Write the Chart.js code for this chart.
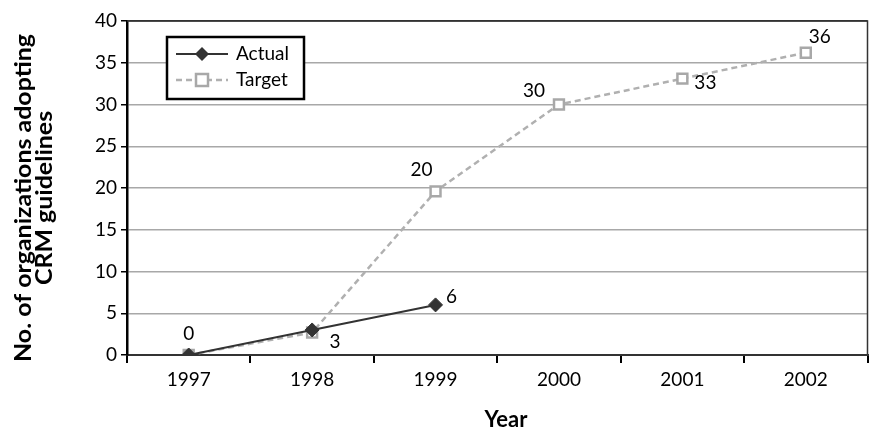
<!DOCTYPE html>
<html>
<head>
<meta charset="utf-8">
<script src="https://cdn.jsdelivr.net/npm/chart.js@4.4.1/dist/chart.umd.min.js"></script>
<style>
  html, body { margin: 0; padding: 0; background: #fff; }
  #wrap { width: 877px; height: 434px; }
</style>
</head>
<body>
<div id="wrap"><canvas id="chart" width="877" height="434"></canvas></div>
<script>
// Chart data
const years = ['1997', '1998', '1999', '2000', '2001', '2002'];
const actual = [0, 3, 6, null, null, null];
const target = [0, 2.7, 19.6, 30, 33.1, 36.2];
const actualLabels = ['0', '', '6', '', '', ''];
const targetLabels = ['', '3', '20', '30', '33', '36'];
const yTicks = [0, 5, 10, 15, 20, 25, 30, 35, 40];
const yTitle = ['No. of organizations adopting', 'CRM guidelines'];
const xTitle = 'Year';

const FONT = "Lato, 'Open Sans', sans-serif";

// label offsets (px) relative to the point, per series
const labelOffsets = {
    0: [[0, -21], null, [16, -8]],
    1: [null, [23, 9], [-14, -21], [-25, -14], [23, 4], [14, -16]]
};

// draws value labels next to the points
const pointLabels = {
    id: 'pointLabels',
    afterDatasetsDraw(chart) {
        const ctx = chart.ctx;
        ctx.save();
        ctx.font = '19px ' + FONT;
        ctx.fillStyle = '#000';
        ctx.textAlign = 'center';
        ctx.textBaseline = 'middle';
        chart.data.datasets.forEach((ds, i) => {
            const meta = chart.getDatasetMeta(i);
            ds.pointText.forEach((txt, j) => {
                if (!txt) return;
                const off = labelOffsets[i][j];
                const pt = meta.data[j];
                ctx.fillText(txt, pt.x + off[0], pt.y + off[1]);
            });
        });
        ctx.restore();
    }
};

// plot frame (top + right), axis titles and the boxed legend
const frameAndLegend = {
    id: 'frameAndLegend',
    beforeDatasetsDraw(chart) {
        const { ctx, chartArea: a } = chart;
        ctx.save();
        ctx.strokeStyle = '#333';
        ctx.lineWidth = 1.5;
        ctx.beginPath();
        ctx.moveTo(a.left, a.top);
        ctx.lineTo(a.right, a.top);
        ctx.lineTo(a.right, a.bottom);
        ctx.stroke();
        ctx.restore();
    },
    afterDraw(chart) {
        const ctx = chart.ctx;
        ctx.save();

        // axis titles (y title stretched a little to match the wide original face)
        ctx.fillStyle = '#000';
        ctx.textAlign = 'center';
        ctx.textBaseline = 'alphabetic';
        ctx.font = 'bold 22px ' + FONT;
        const stretch = 328 / ctx.measureText(yTitle[0]).width;
        ctx.save();
        ctx.translate(0, 198);
        ctx.rotate(-Math.PI / 2);
        ctx.scale(stretch, 1);
        ctx.fillText(yTitle[0], 0, 31);
        ctx.fillText(yTitle[1], 0, 52);
        ctx.restore();
        ctx.font = 'bold 22px ' + FONT;
        ctx.textBaseline = 'middle';
        ctx.fillText(xTitle, 506, 420);

        // legend
        const box = { x: 167, y: 37, w: 137, h: 62 };
        ctx.fillStyle = '#fff';
        ctx.fillRect(box.x, box.y, box.w, box.h);
        ctx.strokeStyle = '#000';
        ctx.lineWidth = 2.5;
        ctx.strokeRect(box.x, box.y, box.w, box.h);

        const rows = [54, 80];
        chart.data.datasets.forEach((ds, i) => {
            const y = rows[i];
            ctx.strokeStyle = ds.borderColor;
            ctx.lineWidth = ds.borderWidth;
            ctx.setLineDash(ds.borderDash || []);
            ctx.beginPath();
            ctx.moveTo(176, y);
            ctx.lineTo(228, y);
            ctx.stroke();
            ctx.setLineDash([]);
            const mx = 202;
            if (ds.pointStyle === 'rectRot') {
                const r = 7;
                ctx.fillStyle = ds.pointBackgroundColor;
                ctx.beginPath();
                ctx.moveTo(mx, y - r);
                ctx.lineTo(mx + r, y);
                ctx.lineTo(mx, y + r);
                ctx.lineTo(mx - r, y);
                ctx.closePath();
                ctx.fill();
            } else {
                ctx.fillStyle = ds.pointBackgroundColor;
                ctx.strokeStyle = ds.pointBorderColor;
                ctx.lineWidth = ds.pointBorderWidth;
                ctx.fillRect(mx - 6, y - 6, 12, 12);
                ctx.strokeRect(mx - 6, y - 6, 12, 12);
            }
            ctx.fillStyle = '#000';
            ctx.font = '19px ' + FONT;
            ctx.textAlign = 'left';
            ctx.textBaseline = 'middle';
            ctx.fillText(ds.label, 236, y);
        });
        ctx.restore();
    }
};

const ctx = document.getElementById('chart').getContext('2d');
new Chart(ctx, {
    type: 'line',
    data: {
        labels: years,
        datasets: [
            {
                label: 'Actual',
                data: actual,
                pointText: actualLabels,
                borderColor: '#333',
                borderWidth: 2,
                pointStyle: 'rectRot',
                pointRadius: 7,
                pointBackgroundColor: '#333',
                pointBorderColor: '#333',
                pointBorderWidth: 1,
                tension: 0,
                spanGaps: false
            },
            {
                label: 'Target',
                data: target,
                pointText: targetLabels,
                borderColor: '#b0b0b0',
                borderWidth: 2.5,
                borderDash: [6, 4],
                pointStyle: 'rect',
                pointRadius: 7,
                pointBackgroundColor: '#fff',
                pointBorderColor: '#a8a8a8',
                pointBorderWidth: 2.5,
                tension: 0
            }
        ]
    },
    options: {
        responsive: false,
        animation: false,
        layout: { padding: { top: 21, right: 5, left: 0, bottom: 0 } },
        plugins: { legend: { display: false }, tooltip: { enabled: false } },
        scales: {
            x: {
                offset: true,
                grid: { offset: true, drawOnChartArea: false, drawTicks: true, tickLength: 8, tickColor: '#000', lineWidth: 2 },
                border: { display: true, color: '#333', width: 2 },
                ticks: { color: '#000', font: { family: FONT, size: 19 }, padding: 5 },
                afterFit: s => { s.height = 434 - 355; }
            },
            y: {
                min: 0,
                max: 40,
                afterBuildTicks: s => { s.ticks = yTicks.map(v => ({ value: v })); },
                grid: {
                    color: c => (c.tick && c.tick.value === 40 ? '#333' : '#a8a8a8'),
                    lineWidth: 1.5,
                    tickLength: 6,
                    tickColor: '#000'
                },
                border: { display: true, color: '#000', width: 2.5 },
                ticks: { color: '#000', font: { family: FONT, size: 19 }, padding: 4 },
                afterFit: s => { s.width = 127; }
            }
        }
    },
    plugins: [frameAndLegend, pointLabels]
});
</script>
</body>
</html>
